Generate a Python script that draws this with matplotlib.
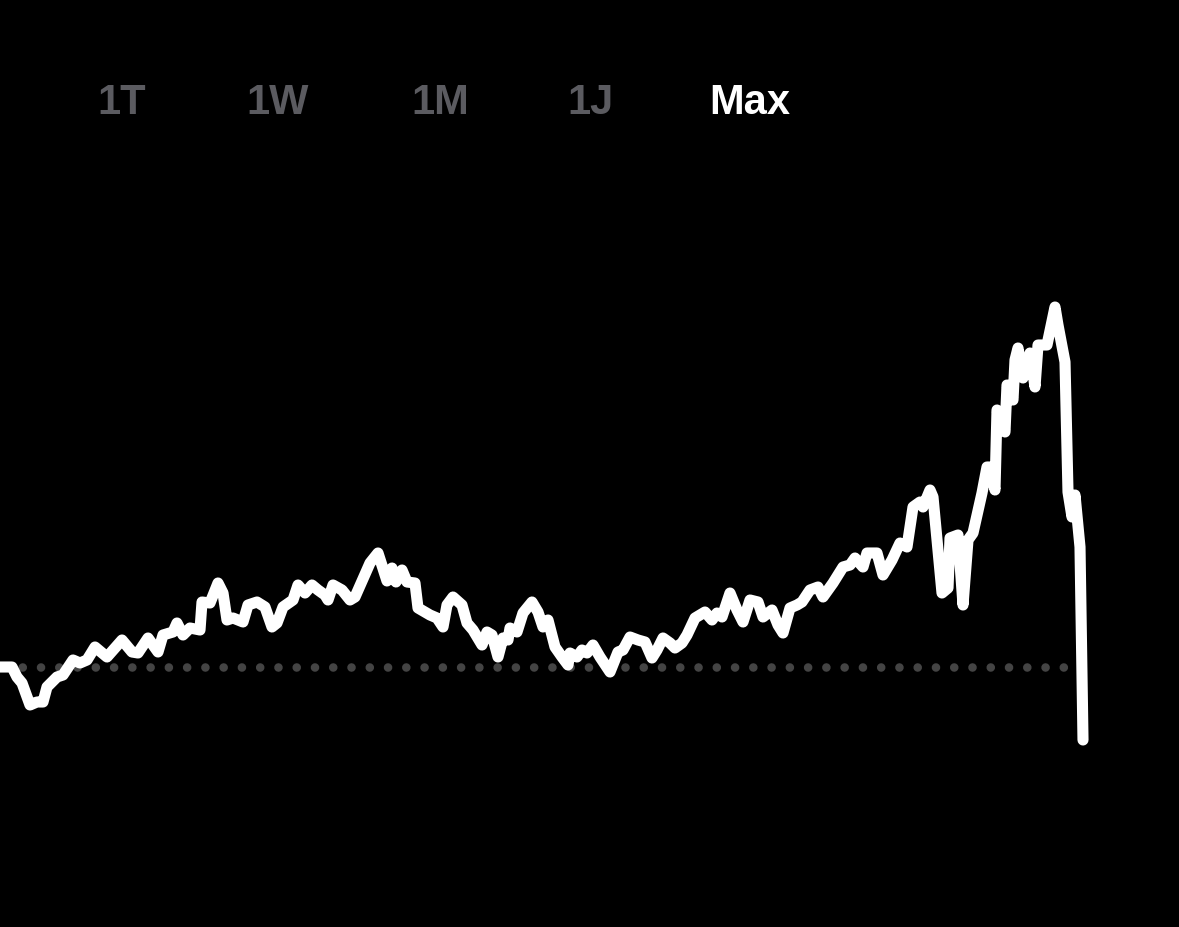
import matplotlib
matplotlib.use("Agg")
import matplotlib.pyplot as plt

# Time-range tabs
tabs = ["1T", "1W", "1M", "1J", "Max"]
active_tab = "Max"

# Price series (x = time position, v = value relative to the reference level 0)
t = [0, 12, 17, 22, 30, 37, 43, 47, 57, 63, 73, 80, 87, 95, 107, 122, 132, 138, 148, 158,
     163, 173, 177, 183, 190, 200, 202, 210, 218, 223, 227, 233, 243, 248, 257, 265, 272, 277, 283, 293,
     298, 305, 312, 318, 325, 328, 333, 342, 350, 355, 370, 378, 387, 392, 396, 402, 407, 415, 418, 430,
     437, 443, 447, 453, 462, 467, 473, 482, 487, 492, 498, 503, 508, 510, 517, 523, 532, 538, 543, 548,
     555, 562, 568, 570, 577, 582, 587, 593, 600, 610, 618, 623, 630, 638, 645, 652, 657, 663, 670, 675,
     682, 687, 695, 705, 712, 717, 722, 730, 737, 743, 750, 758, 763, 772, 778, 783, 790, 797, 802, 810,
     818, 823, 833, 843, 850, 855, 863, 867, 877, 883, 892, 900, 907, 913, 920, 923, 930, 933, 937, 942,
     948, 950, 958, 963, 968, 973, 982, 987, 990, 995, 997, 1005, 1007, 1013, 1015, 1018, 1023, 1030, 1035, 1038,
     1047, 1055, 1058, 1065, 1068, 1072, 1075, 1080, 1083]
v = [0, 0, -10, -16, -38, -35, -35, -20, -10, -8, 7, 4, 7, 20, 10, 27, 15, 14, 29, 15,
     32, 35, 44, 32, 39, 37, 65, 64, 84, 74, 47, 49, 45, 62, 65, 60, 40, 44, 60, 67,
     82, 74, 82, 77, 72, 67, 82, 77, 67, 70, 104, 114, 86, 99, 85, 97, 85, 84, 59, 52,
     49, 40, 62, 70, 62, 44, 37, 22, 35, 32, 10, 29, 27, 39, 35, 54, 65, 55, 40, 47,
     20, 10, 2, 14, 10, 17, 14, 22, 10, -5, 15, 17, 30, 27, 25, 9, 17, 29, 24, 19,
     24, 32, 49, 55, 47, 54, 50, 74, 57, 45, 67, 65, 50, 57, 42, 34, 59, 62, 65, 77,
     80, 70, 84, 100, 102, 109, 100, 114, 114, 92, 107, 124, 120, 160, 165, 160, 177, 170, 127, 74,
     79, 129, 132, 62, 127, 134, 174, 200, 200, 177, 257, 235, 282, 267, 307, 319, 289, 314, 280, 322,
     322, 360, 342, 305, 175, 150, 172, 120, -73]

reference_level = 0
ref_start, ref_end = 4, 1066

fig = plt.figure(figsize=(11.79, 9.27), dpi=100, facecolor="black")
ax = fig.add_axes([0, 0, 1, 1])
ax.set_facecolor("black")
ax.set_xlim(0, 1179)
ax.set_ylim(-260, 667)
ax.axis("off")

# dotted reference line
ax.plot([ref_start, ref_end], [reference_level, reference_level], color="#444444",
        linewidth=6.2, linestyle=(0, (0.001, 2.12)), dash_capstyle="round", zorder=1)

ax.plot(t, v, color="white", linewidth=8, solid_joinstyle="round",
        solid_capstyle="round", zorder=3)

tab_x = [122, 278, 440, 590, 750]
for label, x in zip(tabs, tab_x):
    col = "white" if label == active_tab else "#5b5b60"
    fig.text(x / 1179, 1 - 103 / 927, label, color=col, fontsize=30,
             fontweight="bold", family=["Liberation Sans", "DejaVu Sans"],
             ha="center", va="center")

fig.savefig("out.png", dpi=100, facecolor="black")
